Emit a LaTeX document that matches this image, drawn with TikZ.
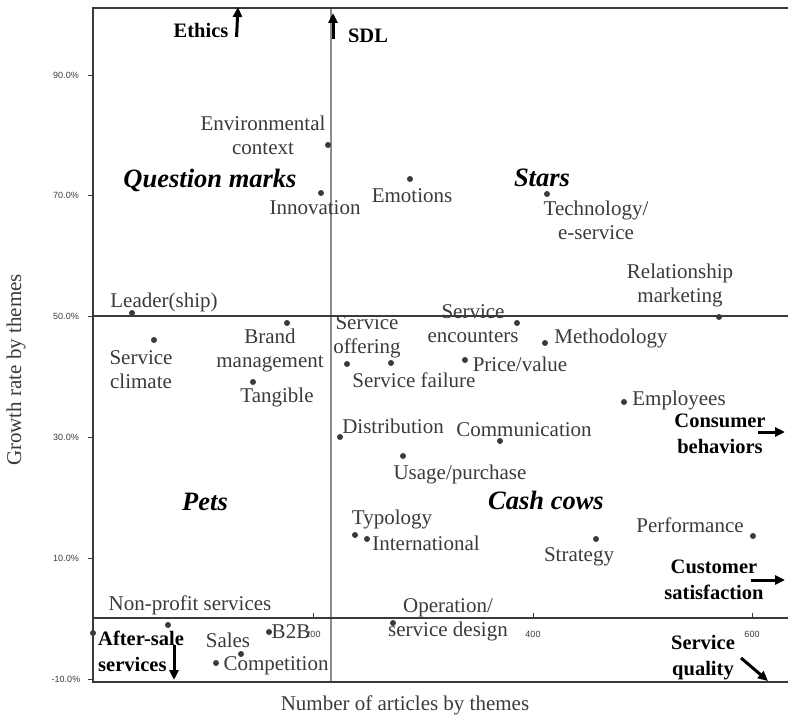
\documentclass[tikz,border=0pt]{standalone}
\usepackage{fontspec}
\setmainfont{Liberation Serif}
\setsansfont{Liberation Sans}
\usetikzlibrary{arrows.meta}
\definecolor{ink}{HTML}{3A3A3A}
\definecolor{rule}{HTML}{8C8C8C}
\begin{document}
\begin{tikzpicture}[x=1pt,y=1pt]
\tikzstyle{every node}+=[inner sep=0pt]
\tikzstyle{theme}=[font=\fontsize{21}{24}\selectfont, text=ink, align=center]
\tikzstyle{trendlbl}=[font=\fontsize{20.5}{26}\selectfont\bfseries, align=center]
\tikzstyle{quad}=[font=\fontsize{26.5}{30}\selectfont\bfseries\itshape]
\tikzstyle{dot}=[circle, fill=ink, minimum size=6pt]
\tikzstyle{ticklbl}=[font=\sffamily\fontsize{9}{10}\selectfont, text=ink]
\tikzstyle{trend}=[-{Triangle[length=10pt,width=9pt]}, line width=3pt]
\useasboundingbox (0,0) rectangle (788,-717);
\draw [rule, line width=1.2pt] (331,-8) -- (331,-682);
\draw [ink, line width=1.4pt] (93,-316) -- (788,-316);
\draw [ink, line width=1.4pt] (93,-618) -- (788,-618);
\draw [ink, line width=1.8pt] (788,-8) -- (93,-8) -- (93,-682) -- (788,-682);
\foreach \v/\y [count=\i] in {90.0/75, 70.0/195, 50.0/316, 30.0/437, 10.0/558, -10.0/679}
{
\draw [ink] (88,-\y) -- (93,-\y);
\node [ticklbl] (yt\i) at (66,-\y) {\v\%};
}
\foreach \n/\x in {200/313, 400/533, 600/752}
{
\draw [ink] (\x,-618) -- (\x,-613);
\node [ticklbl] (xt\n) at (\x,-634) {\n};
}
\node [font=\fontsize{21}{24}\selectfont, text=ink] (xtitle) at (405,-705) {Number of articles by themes};
\node [font=\fontsize{21}{24}\selectfont, text=ink, rotate=90] (ytitle) at (16,-370) {Growth rate by themes};
\node [quad] (qmarks) at (210,-180) {Question marks};
\node [quad] (stars) at (542,-178) {Stars};
\node [quad] (pets) at (205,-502) {Pets};
\node [quad] (cows) at (546,-500) {Cash cows};
\node [dot] (envc) at (328,-145) {};
\node [theme] (envcl) at (263,-135) {Environmental\\context};
\node [dot] (innov) at (321,-193) {};
\node [theme] (innovl) at (315,-208) {Innovation};
\node [dot] (emot) at (410,-179) {};
\node [theme] (emotl) at (412,-196) {Emotions};
\node [dot] (tech) at (547,-194) {};
\node [theme] (techl) at (596,-220) {Technology/\\e-service};
\node [dot] (relm) at (719,-317) {};
\node [theme] (relml) at (680,-285) {Relationship\\marketing};
\node [dot] (lead) at (132,-313) {};
\node [theme] (leadl) at (164,-302) {Leader(ship)};
\node [dot] (climate) at (154,-340) {};
\node [theme] (climatel) at (141,-370) {Service\\climate};
\node [dot] (brand) at (287,-323) {};
\node [theme] (brandl) at (270,-350) {Brand\\management};
\node [dot] (tang) at (253,-382) {};
\node [theme] (tangl) at (277,-397) {Tangible};
\node [dot] (offer) at (347,-364) {};
\node [theme] (offerl) at (367,-337) {Service\\offering};
\node [dot] (fail) at (391,-363) {};
\node [theme] (faill) at (414,-380) {Service failure};
\node [dot] (enc) at (517,-323) {};
\node [theme] (encl) at (473,-324) {Service\\encounters};
\node [dot] (meth) at (545,-343) {};
\node [theme] (methl) at (611,-338) {Methodology};
\node [dot] (price) at (465,-360) {};
\node [theme] (pricel) at (520,-364) {Price/value};
\node [dot] (empl) at (624,-402) {};
\node [theme] (empll) at (679,-400) {Employees};
\node [dot] (distr) at (340,-437) {};
\node [theme] (distrl) at (393,-426) {Distribution};
\node [dot] (comm) at (500,-441) {};
\node [theme] (comml) at (524,-430) {Communication};
\node [dot] (usage) at (403,-456) {};
\node [theme] (usagel) at (460,-474) {Usage/purchase};
\node [dot] (typo) at (355,-535) {};
\node [theme] (typol) at (392,-519) {Typology};
\node [dot] (intl) at (367,-539) {};
\node [theme] (intll) at (426,-543) {International};
\node [dot] (strat) at (596,-539) {};
\node [theme] (stratl) at (579,-557) {Strategy};
\node [dot] (perf) at (753,-536) {};
\node [theme] (perfl) at (690,-525) {Performance};
\node [dot] (oper) at (393,-623) {};
\node [theme] (operl) at (448,-620) {Operation/\\service design};
\node [dot] (nonp) at (168,-625) {};
\node [theme] (nonpl) at (190,-605) {Non-profit services};
\node [dot] (after) at (93,-633) {};
\node [trendlbl, align=left, anchor=west] (afterl) at (98,-651) {After-sale\\services};
\node [dot] (sales) at (241,-654) {};
\node [theme] (salesl) at (228,-640) {Sales};
\node [dot] (comp) at (216,-663) {};
\node [theme] (compl) at (276,-666) {Competition};
\node [dot] (b2b) at (269,-632) {};
\node [theme] (b2bl) at (291,-632) {B2B};
\node [trendlbl] (ethics) at (201,-30) {Ethics};
\node [trendlbl] (sdl) at (368,-36) {SDL};
\node [trendlbl] (consb) at (720,-434) {Consumer\\behaviors};
\node [trendlbl] (custs) at (714,-580) {Customer\\satisfaction};
\node [trendlbl] (servq) at (703,-658) {Service\\quality};
\coordinate (ethicsup) at (238,-7);
\coordinate (sdlup) at (333,-13);
\coordinate (consbright) at (785,-432);
\coordinate (custsright) at (785,-580);
\coordinate (servqdown) at (768,-681);
\coordinate (afterdown) at (174,-680);
\draw [trend] (ethics.east) ++(8,-7) -- (ethicsup);
\draw [trend] (333,-39) -- (sdlup);
\draw [trend] (consb.east) ++(-8,2) -- (consbright);
\draw [trend] (custs.east) ++(-13,0) -- (custsright);
\draw [trend] (servq.east) ++(6,0) -- (servqdown);
\draw [trend] (afterl.south west) ++(76,27) -- (afterdown);
\end{tikzpicture}
\end{document}
